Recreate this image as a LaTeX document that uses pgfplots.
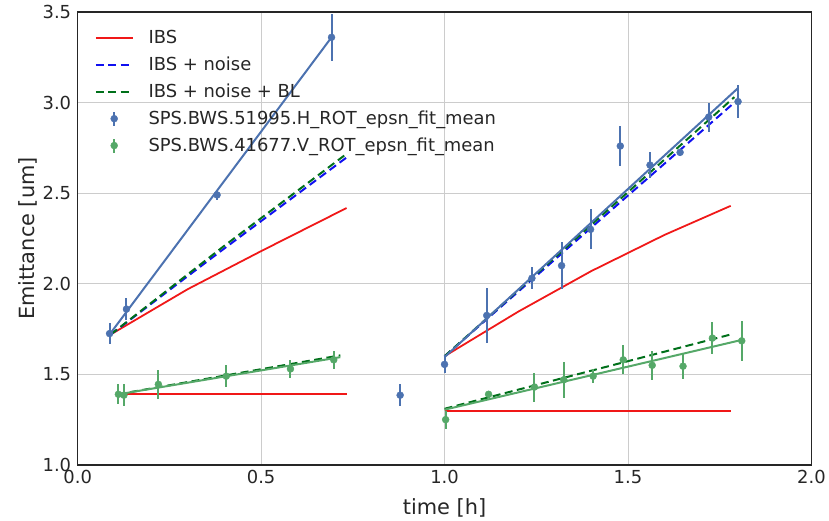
\documentclass[border=0pt]{standalone}
\usepackage{pgfplots}
\pgfplotsset{compat=1.18}
\usepackage{pgfplotstable}
\usepackage{fontspec}
\setmainfont{DejaVu Sans}
\definecolor{cblue}{HTML}{4C72B0}
\definecolor{cgreen}{HTML}{55A868}
\definecolor{cred}{HTML}{F01818}
\definecolor{dblue}{HTML}{1010F0}
\definecolor{dgreen}{HTML}{00701A}
\definecolor{txt}{HTML}{262626}

\pgfplotstableread{
x y e
0.087 1.725 0.06
0.133 1.86 0.06
0.38 2.49 0.03
0.692 3.36 0.13
0.879 1.385 0.06
1.0 1.555 0.05
1.115 1.825 0.15
1.238 2.03 0.06
1.319 2.10 0.13
1.398 2.30 0.11
1.479 2.76 0.11
1.56 2.655 0.07
1.642 2.725 0.02
1.72 2.92 0.08
1.80 3.005 0.09
}\Hdata

\pgfplotstableread{
x y e
0.111 1.39 0.055
0.126 1.385 0.06
0.22 1.445 0.08
0.405 1.49 0.06
0.58 1.53 0.05
0.698 1.58 0.05
1.003 1.25 0.05
1.12 1.39 0.02
1.245 1.43 0.08
1.325 1.47 0.10
1.405 1.49 0.04
1.487 1.58 0.08
1.566 1.55 0.08
1.65 1.545 0.07
1.73 1.70 0.09
1.81 1.685 0.11
}\Vdata

\begin{document}
\begin{tikzpicture}
\begin{axis}[
  scale only axis,
  width=737pt, height=455pt,
  xmin=0, xmax=2, ymin=1, ymax=3.5,
  xtick={0,0.5,1,1.5,2}, ytick={1,1.5,2,2.5,3,3.5},
  xticklabels={0.0,0.5,1.0,1.5,2.0},
  yticklabels={1.0,1.5,2.0,2.5,3.0,3.5},
  major tick length=0pt,
  grid=major,
  major grid style={draw=black!20, line width=1pt},
  axis line style={draw=txt, line width=1.3pt},
  tick label style={font=\fontsize{18}{18}\selectfont, text=txt},
  yticklabel style={xshift=-3pt},
  xticklabel style={yshift=-2pt},
  xlabel={time [h]}, ylabel={Emittance [um]},
  every axis x label/.style={at={(axis description cs:0.5,0)}, yshift=-43pt, anchor=center, font=\fontsize{21}{21}\selectfont, text=txt},
  every axis y label/.style={at={(axis description cs:0,0.5)}, xshift=-50pt, rotate=90, anchor=center, font=\fontsize{21}{21}\selectfont, text=txt},
  legend style={at={(axis description cs:0,1)}, anchor=north west, xshift=17pt, yshift=-16.5pt,
    draw=none, fill=none, inner sep=0pt, row sep=8pt, column sep=15pt,
    font=\fontsize{18}{18}\selectfont, text=txt,
    nodes={inner sep=0pt, text height=15pt, text depth=4pt}},
  legend cell align=left,
]
\addlegendimage{legend image code/.code={\draw[cred, line width=1.8pt] (0pt,0pt) -- (37pt,0pt);}}
\addlegendentry{IBS}
\addlegendimage{legend image code/.code={\draw[dblue, line width=2pt, dash pattern=on 8pt off 4.5pt] (0pt,0pt) -- (37pt,0pt);}}
\addlegendentry{IBS + noise}
\addlegendimage{legend image code/.code={\draw[dgreen, line width=2pt, dash pattern=on 8pt off 4.5pt] (0pt,0pt) -- (37pt,0pt);}}
\addlegendentry{IBS + noise + BL}
\addlegendimage{legend image code/.code={\path[draw=none] (0pt,0pt) -- (37pt,0pt); \draw[cblue, line width=2pt] (18.5pt,-7pt) -- (18.5pt,7pt); \fill[cblue] (18.5pt,0pt) circle (3.5pt);}}
\addlegendentry{SPS.BWS.51995.H\_ROT\_epsn\_fit\_mean}
\addlegendimage{legend image code/.code={\path[draw=none] (0pt,0pt) -- (37pt,0pt); \draw[cgreen, line width=2pt] (18.5pt,-7pt) -- (18.5pt,7pt); \fill[cgreen] (18.5pt,0pt) circle (3.5pt);}}
\addlegendentry{SPS.BWS.41677.V\_ROT\_epsn\_fit\_mean}

% IBS (red)
\addplot[forget plot, draw=cred, line width=1.8pt] coordinates {(0.09,1.72) (0.3,1.97) (0.5,2.18) (0.733,2.418)};
\addplot[forget plot, draw=cred, line width=1.8pt] coordinates {(0.11,1.39) (0.4,1.39) (0.733,1.39)};
\addplot[forget plot, draw=cred, line width=1.8pt] coordinates {(1.0,1.60) (1.2,1.845) (1.4,2.07) (1.6,2.27) (1.78,2.43)};
\addplot[forget plot, draw=cred, line width=1.8pt] coordinates {(1.0,1.297) (1.4,1.297) (1.78,1.297)};

% IBS + noise (blue dashed)
\addplot[forget plot, dblue, line width=2pt, dash pattern=on 8pt off 4.5pt] coordinates {(0.09,1.72) (0.4,2.195) (0.735,2.70)};
\addplot[forget plot, dblue, line width=2pt, dash pattern=on 8pt off 4.5pt] coordinates {(1.0,1.60) (1.4,2.31) (1.79,3.00)};

% IBS + noise + BL (green dashed)
\addplot[forget plot, dgreen, line width=2pt, dash pattern=on 8pt off 4.5pt] coordinates {(0.09,1.72) (0.4,2.21) (0.735,2.72)};
\addplot[forget plot, dgreen, line width=2pt, dash pattern=on 8pt off 4.5pt] coordinates {(1.0,1.60) (1.4,2.325) (1.79,3.03)};
\addplot[forget plot, dgreen, line width=2pt, dash pattern=on 8pt off 4.5pt] coordinates {(0.11,1.39) (0.716,1.605)};
\addplot[forget plot, dgreen, line width=2pt, dash pattern=on 8pt off 4.5pt] coordinates {(1.0,1.31) (1.78,1.72)};

% data with error bars
\addplot[forget plot, only marks, mark=*, mark size=3.5pt, mark options={draw=cblue, fill=cblue},
  error bars/.cd, y dir=both, y explicit, error mark=none,
  error bar style={draw=cblue, line width=2pt, solid}]
  table[x=x, y=y, y error=e] {\Hdata};
\addplot[forget plot, only marks, mark=*, mark size=3.5pt, mark options={draw=cgreen, fill=cgreen},
  error bars/.cd, y dir=both, y explicit, error mark=none,
  error bar style={draw=cgreen, line width=2pt, solid}]
  table[x=x, y=y, y error=e] {\Vdata};

% fits (solid)
\addplot[forget plot, cblue, line width=2pt] coordinates {(0.087,1.72) (0.692,3.36)};
\addplot[forget plot, cblue, line width=2pt] coordinates {(1.0,1.595) (1.80,3.08)};
\addplot[forget plot, cgreen, line width=2pt] coordinates {(0.111,1.39) (0.716,1.595)};
\addplot[forget plot, cgreen, line width=2pt] coordinates {(1.0,1.305) (1.81,1.69)};
\end{axis}
\path (-78pt,-55pt) rectangle (751pt,467pt);
\end{tikzpicture}
\end{document}
